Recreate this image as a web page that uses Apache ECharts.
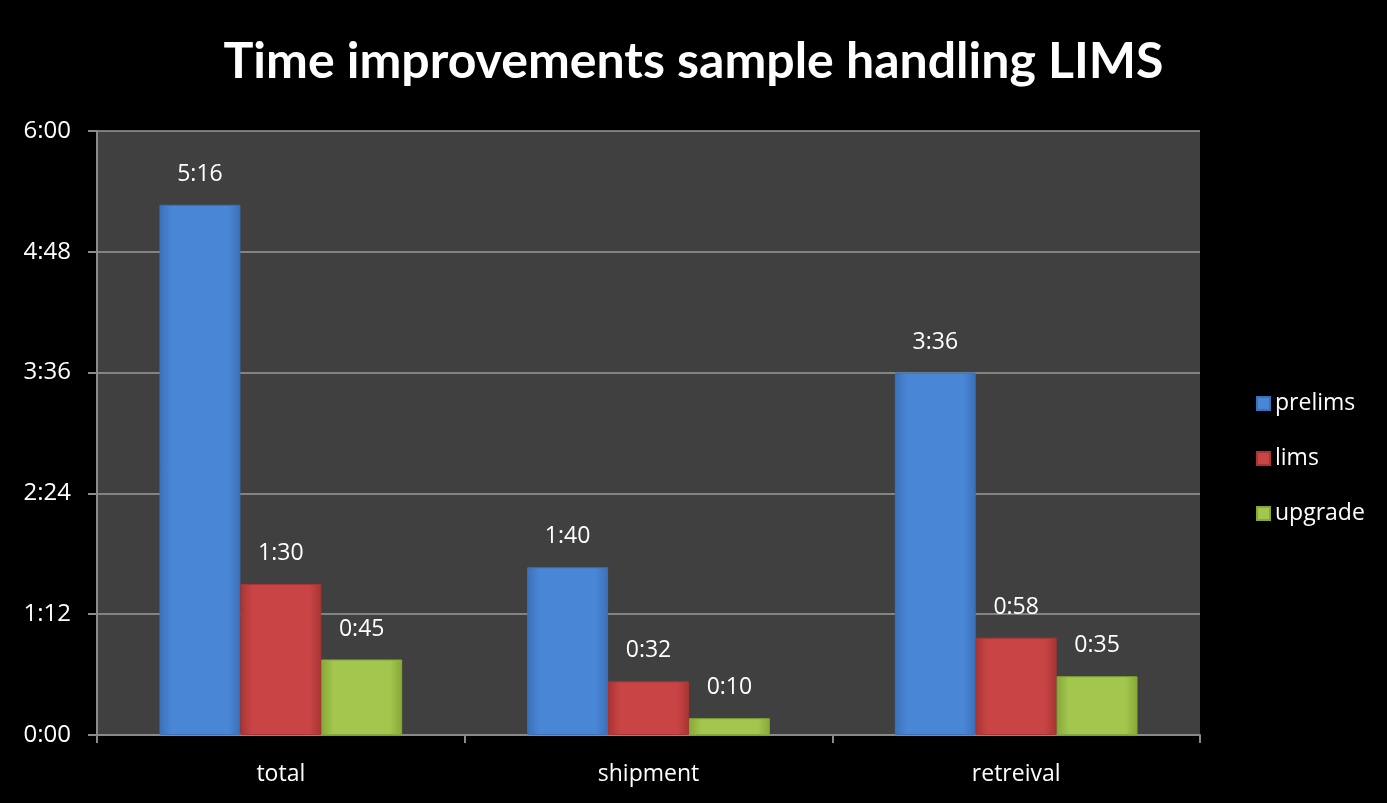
<!DOCTYPE html>
<html><head><meta charset="utf-8">
<script src="https://cdn.jsdelivr.net/npm/echarts@6/dist/echarts.min.js"></script>
<style>html,body{margin:0;padding:0;background:#000;}#c{width:1387px;height:803px;}</style>
</head><body><div id="c"></div>
<script>
const categories = ['total', 'shipment', 'retreival'];
const prelims = [316, 100, 216];   // minutes
const lims = [90, 32, 58];
const upgrade = [45, 10, 35];
const seriesNames = ['prelims', 'lims', 'upgrade'];

function fmt(m) { const h = Math.floor(m / 60), mm = Math.round(m % 60); return h + ':' + (mm < 10 ? '0' : '') + mm; }
const FONT = 'Open Sans';
const colors = [
  ['#3a70b8', '#4a86d6', '#3a70b8'],
  ['#a83434', '#c94545', '#a83434'],
  ['#86a838', '#a3c64e', '#86a838']
];
function grad(c) {
  return { type: 'linear', x: 0, y: 0, x2: 1, y2: 0, colorStops: [{ offset: 0, color: c[0] }, { offset: 0.15, color: c[1] }, { offset: 0.85, color: c[1] }, { offset: 1, color: c[2] }] };
}
const data = [prelims, lims, upgrade];
const chart = echarts.init(document.getElementById('c'));
chart.setOption({
  backgroundColor: '#000',
  animation: false,
  title: { text: 'Time improvements sample handling LIMS', left: 'center', top: 32,
    textStyle: { color: '#fff', fontFamily: 'Lato', fontWeight: 'bold', fontSize: 50 } },
  legend: { orient: 'vertical', left: 1251, top: 387, itemGap: 32, itemWidth: 13, itemHeight: 13, icon: 'rect',
    textStyle: { color: '#fff', fontFamily: FONT, fontSize: 23, padding: [0, 0, 0, 0] },
    data: seriesNames.map((n, i) => ({ name: n, itemStyle: { color: colors[i][1] } })) },
  grid: { left: 97, top: 131, width: 1103, height: 604, backgroundColor: '#404040', show: true, borderWidth: 0, outerBoundsMode: 'none', containLabel: false },
  xAxis: { type: 'category', data: categories,
    axisLine: { lineStyle: { color: '#8a8a8a', width: 2 } },
    axisTick: { show: true, length: 8, lineStyle: { color: '#8a8a8a', width: 2 } },
    axisLabel: { color: '#fff', fontFamily: FONT, fontSize: 23, margin: 28 } },
  yAxis: { type: 'value', min: 0, max: 360, interval: 72,
    axisLine: { show: true, lineStyle: { color: '#8a8a8a', width: 2 } },
    axisTick: { show: true, length: 9, lineStyle: { color: '#8a8a8a', width: 2 } },
    splitLine: { lineStyle: { color: '#9a9a9a', width: 1.5 } },
    axisLabel: { color: '#fff', fontFamily: FONT, fontSize: 24, margin: 26, formatter: v => fmt(v) } },
  series: seriesNames.map((n, i) => ({
    name: n, type: 'bar', data: data[i], barGap: '0%', barCategoryGap: '34%',
    itemStyle: { color: grad(colors[i]), borderColor: colors[i][0], borderWidth: 1 },
    label: { show: true, position: 'top', distance: 19, color: '#fff', fontFamily: FONT, fontSize: 23, formatter: p => fmt(p.value) }
  }))
});
</script></body></html>
